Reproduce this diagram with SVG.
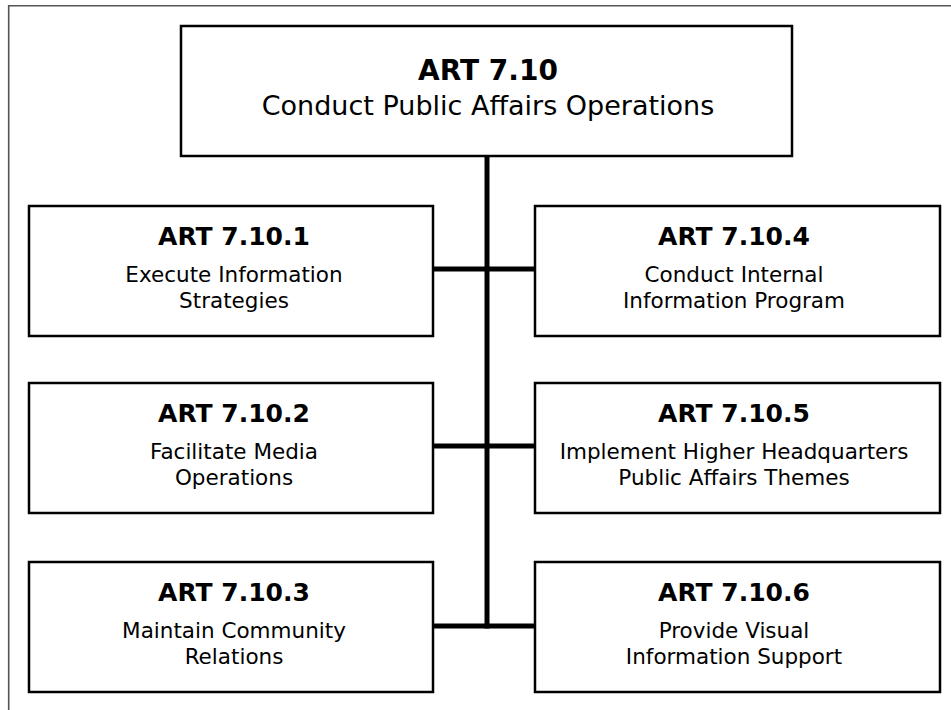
<svg xmlns="http://www.w3.org/2000/svg" width="951" height="710" viewBox="0 0 951 710">
<style>
.box{fill:#fff;stroke:#000;stroke-width:2.5}
.frame{fill:none;stroke:#555;stroke-width:1.6}
.conn{fill:none;stroke:#000;stroke-width:5}
text{font-family:"DejaVu Sans","Liberation Sans",Arial,sans-serif;fill:#000;text-anchor:middle}
.t0{font-size:28px;font-weight:bold}
.s0{font-size:27px}
.t{font-size:25px;font-weight:bold}
.s{font-size:21.5px}
</style>
<rect width="951" height="710" fill="#fff"/>
<path class="frame" d="M8.7,710 V5.7 H951"/>
<g id="connectors">
<line class="conn" x1="487" y1="156" x2="487" y2="628.5"/>
<line class="conn" x1="433" y1="269" x2="535" y2="269"/>
<line class="conn" x1="433" y1="446" x2="535" y2="446"/>
<line class="conn" x1="433" y1="626" x2="535" y2="626"/>
</g>
<g id="node-root">
<rect class="box" x="181" y="26" width="611" height="130"/>
<text class="t0" x="488" y="80">ART 7.10</text>
<text class="s0" x="488" y="115">Conduct Public Affairs Operations</text>
</g>
<g id="node-1">
<rect class="box" x="29" y="206" width="404" height="130"/>
<text class="t" x="234" y="245">ART 7.10.1</text>
<text class="s" x="234" y="282">Execute Information</text>
<text class="s" x="234" y="308">Strategies</text>
</g>
<g id="node-2">
<rect class="box" x="29" y="383" width="404" height="130"/>
<text class="t" x="234" y="422">ART 7.10.2</text>
<text class="s" x="234" y="459">Facilitate Media</text>
<text class="s" x="234" y="485">Operations</text>
</g>
<g id="node-3">
<rect class="box" x="29" y="562" width="404" height="130"/>
<text class="t" x="234" y="601">ART 7.10.3</text>
<text class="s" x="234" y="638">Maintain Community</text>
<text class="s" x="234" y="664">Relations</text>
</g>
<g id="node-4">
<rect class="box" x="535" y="206" width="405" height="130"/>
<text class="t" x="734" y="245">ART 7.10.4</text>
<text class="s" x="734" y="282">Conduct Internal</text>
<text class="s" x="734" y="308">Information Program</text>
</g>
<g id="node-5">
<rect class="box" x="535" y="383" width="405" height="130"/>
<text class="t" x="734" y="422">ART 7.10.5</text>
<text class="s" x="734" y="459">Implement Higher Headquarters</text>
<text class="s" x="734" y="485">Public Affairs Themes</text>
</g>
<g id="node-6">
<rect class="box" x="535" y="562" width="405" height="130"/>
<text class="t" x="734" y="601">ART 7.10.6</text>
<text class="s" x="734" y="638">Provide Visual</text>
<text class="s" x="734" y="664">Information Support</text>
</g>
</svg>
